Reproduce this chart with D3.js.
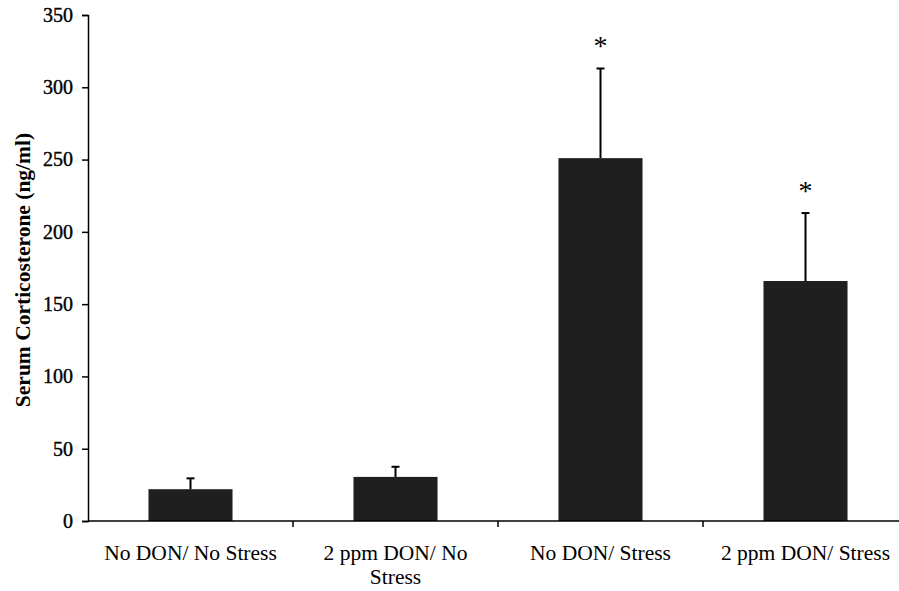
<!DOCTYPE html>
<html>
<head>
<meta charset="utf-8">
<script src="https://cdn.jsdelivr.net/npm/d3@7"></script>
<style>
  body { margin: 0; background: #fff; }
  svg { display: block; }
</style>
</head>
<body>
<svg id="chart" width="899" height="591"></svg>
<script>
// Serum corticosterone by DON dose and stress condition
const categories = ["No DON/ No Stress", "2 ppm DON/ No Stress", "No DON/ Stress", "2 ppm DON/ Stress"];
const labelLines = [["No DON/ No Stress"], ["2 ppm DON/ No", "Stress"], ["No DON/ Stress"], ["2 ppm DON/ Stress"]];
const means = [22, 30.5, 251, 166];
const errors = [7.5, 7, 62, 47];
const significant = [false, false, true, true];
const yTicks = [0, 50, 100, 150, 200, 250, 300, 350];

const svg = d3.select("#chart");
const plotLeft = 88, plotRight = 908, plotTop = 15, plotBottom = 521;

const x = d3.scaleBand().domain(categories).range([plotLeft, plotRight]).padding(0);
const y = d3.scaleLinear().domain([0, 350]).range([plotBottom, plotTop]);
const barW = x.bandwidth() * 0.41;
const serif = "'Liberation Serif', 'Times New Roman', serif";

// bars
svg.append("g").selectAll("rect").data(categories).join("rect")
  .attr("x", (d) => x(d) + (x.bandwidth() - barW) / 2)
  .attr("y", (d, i) => y(means[i]))
  .attr("width", barW)
  .attr("height", (d, i) => y(0) - y(means[i]))
  .attr("fill", "#1f1f1f");

// upward error bars with caps
const eg = svg.append("g").attr("stroke", "#000").attr("stroke-width", 2);
categories.forEach((c, i) => {
  const cx = x(c) + x.bandwidth() / 2;
  eg.append("line").attr("x1", cx).attr("x2", cx)
    .attr("y1", y(means[i])).attr("y2", y(means[i] + errors[i]));
  eg.append("line").attr("x1", cx - 4).attr("x2", cx + 4)
    .attr("y1", y(means[i] + errors[i])).attr("y2", y(means[i] + errors[i]));
});

// significance markers
categories.forEach((c, i) => {
  if (!significant[i]) return;
  svg.append("text")
    .attr("x", x(c) + x.bandwidth() / 2)
    .attr("y", y(means[i] + errors[i]) - 13)
    .attr("text-anchor", "middle")
    .attr("font-family", serif)
    .attr("font-size", 28)
    .text("*");
});

// y axis
const yAxis = svg.append("g").attr("transform", `translate(${plotLeft},0)`)
  .call(d3.axisLeft(y).tickValues(yTicks).tickSize(6).tickPadding(9));
yAxis.select(".domain").attr("stroke", "#000").attr("stroke-width", 1.5);
yAxis.selectAll(".tick line").attr("stroke", "#000").attr("stroke-width", 1.5);
yAxis.selectAll(".tick text")
  .attr("font-family", serif).attr("font-size", 20).attr("fill", "#000")
  .attr("stroke", "#000").attr("stroke-width", 0.4);

// x axis: ticks at category boundaries
const xg = svg.append("g");
xg.append("line").attr("x1", plotLeft).attr("x2", plotRight).attr("y1", plotBottom).attr("y2", plotBottom)
  .attr("stroke", "#000").attr("stroke-width", 1.5);
const bounds = categories.map((c) => x(c)).concat([x(categories[categories.length - 1]) + x.bandwidth()]).slice(1);
xg.selectAll(".xt").data(bounds).join("line")
  .attr("x1", (d) => d).attr("x2", (d) => d)
  .attr("y1", plotBottom).attr("y2", plotBottom + 6)
  .attr("stroke", "#000").attr("stroke-width", 1.5);

// category labels
categories.forEach((c, i) => {
  const t = svg.append("text")
    .attr("x", x(c) + x.bandwidth() / 2)
    .attr("y", 560)
    .attr("text-anchor", "middle")
    .attr("font-family", serif)
    .attr("font-size", 21.5)
    .attr("fill", "#000");
  labelLines[i].forEach((ln, k) => {
    t.append("tspan").attr("x", x(c) + x.bandwidth() / 2).attr("dy", k === 0 ? 0 : 24).text(ln);
  });
});

// y axis title
svg.append("text")
  .attr("transform", `translate(30, 270) rotate(-90)`)
  .attr("text-anchor", "middle")
  .attr("font-family", serif)
  .attr("font-size", 21.5)
  .attr("font-weight", "bold")
  .text("Serum Corticosterone (ng/ml)");
</script>
</body>
</html>
